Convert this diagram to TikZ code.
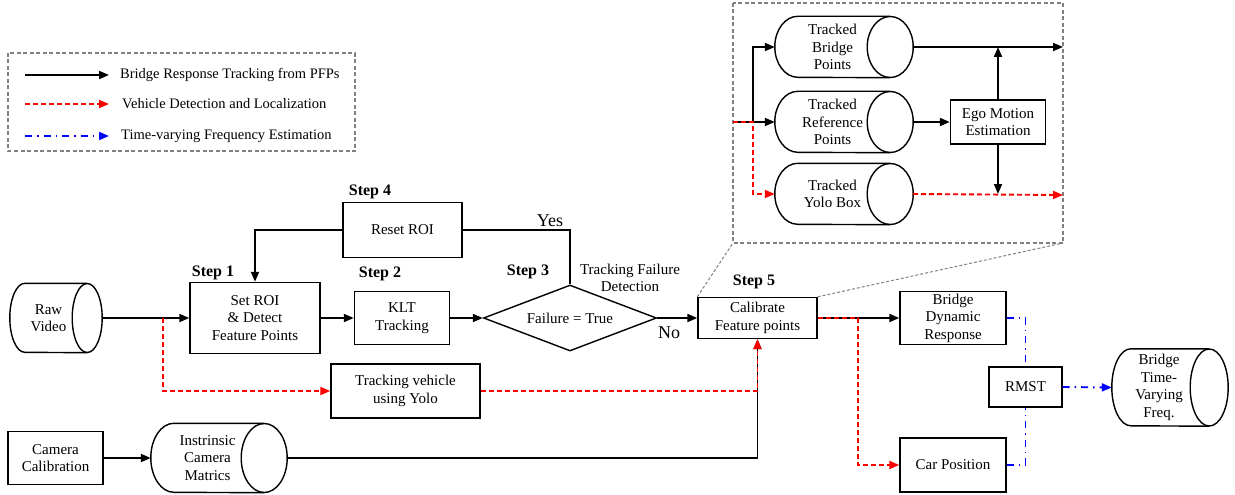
\documentclass[tikz,border=0pt]{standalone}
\usepackage{fontspec}
\setmainfont{Liberation Serif}
\usetikzlibrary{arrows.meta,shapes.geometric,calc}
\newcommand\myMainFont{\fontsize{15}{17.5}\selectfont}
\newcommand\myLegFont{\fontsize{14.5}{17}\selectfont}
\newcommand\myStepFont{\fontsize{16}{18}\selectfont\bfseries}
\newcommand\myYNFont{\fontsize{18}{20}\selectfont}
% cylinder outline: node name, x radius, y radius
\newcommand\cylout[3]{%
  \draw[line width=1.4pt] ($(#1.north east)+(-#2pt,0pt)$) -- ($(#1.north west)+(#2pt,0pt)$)
     arc[start angle=90,end angle=270,x radius=#2pt,y radius=#3pt] -- ($(#1.south east)+(-#2pt,0pt)$);
  \draw[line width=1.4pt] ($(#1.east)+(-#2pt,0pt)$) ellipse[x radius=#2pt,y radius=#3pt];}
\tikzset{
  box/.style={draw, line width=1.4pt, inner sep=0pt, align=center, font=\myMainFont},
  cyln/.style={draw=none, inner sep=0pt},
  ctext/.style={align=center, font=\myMainFont, inner sep=0pt},
  arr/.style={-{Triangle[length=10pt,width=8pt]}},
  blk/.style={line width=1.9pt, draw=black},
  rdl/.style={line width=1.9pt, draw=red, dash pattern=on 5pt off 3pt},
  bdl/.style={line width=1.9pt, draw=blue, dash pattern=on 7pt off 5pt on 1.5pt off 5pt},
  grayframe/.style={draw=gray, line width=1.5pt, dash pattern=on 4pt off 2.5pt},
  zoomline/.style={draw=gray, line width=1pt, dash pattern=on 3pt off 2pt},
  steplab/.style={font=\myStepFont, inner sep=0pt},
}
\begin{document}
\begin{tikzpicture}[x=1pt,y=-1pt]
\useasboundingbox (0,0) rectangle (1235,495);

% ---------- legend ----------
\draw[grayframe] (8,53) rectangle (355,151);
\coordinate (l1a) at (25,75);  \coordinate (l1b) at (109,75);
\coordinate (l2a) at (25,104); \coordinate (l2b) at (109,104);
\coordinate (l3a) at (25,136); \coordinate (l3b) at (109,136);
\draw[blk,arr] (l1a) -- (l1b);
\draw[rdl,arr] (l2a) -- (l2b);
\draw[bdl,arr] (l3a) -- (l3b);
\node[anchor=west, font=\myLegFont, inner sep=0pt] (lt1) at (120,75) {Bridge Response Tracking from PFPs};
\node[anchor=west, font=\myLegFont, inner sep=0pt] (lt2) at (122,104) {Vehicle Detection and Localization};
\node[anchor=west, font=\myLegFont, inner sep=0pt] (lt3) at (121,136) {Time-varying Frequency Estimation};

% ---------- inset ----------
\draw[grayframe] (733,3) rectangle (1063,243);
\coordinate (insw) at (733,243);
\coordinate (inse) at (1063,243);
\coordinate (inl) at (733,122);
\coordinate (br) at (753,122);
\coordinate (outT) at (1063,47);
\coordinate (outR) at (1063,195);

\node[cyln, minimum width=138pt, minimum height=61pt] (tbp) at (844,47) {};
\cylout{tbp}{23}{30.5}
\node[ctext] at ($(tbp.center)+(-11.5,0)$) {Tracked\\Bridge\\Points};
\node[cyln, minimum width=138pt, minimum height=61pt] (trp) at (844,122) {};
\cylout{trp}{23}{30.5}
\node[ctext] at ($(trp.center)+(-11.5,0)$) {Tracked\\Reference\\Points};
\node[cyln, minimum width=138pt, minimum height=61pt] (tyb) at (844,194) {};
\cylout{tyb}{23}{30.5}
\node[ctext] at ($(tyb.center)+(-11.5,0)$) {Tracked\\Yolo Box};
\node[box, minimum width=95pt, minimum height=44pt] (ego) at (998,122) {Ego Motion\\Estimation};

\draw[blk] (inl) -- (br);
\draw[blk,arr] (br) |- (tbp.west);
\draw[blk,arr] (br) -- (trp.west);
\draw[rdl,arr] (inl) -- (br) |- (tyb.west);
\draw[blk,arr] (tbp.east) -- (outT);
\draw[blk,arr] (trp.east) -- (ego.west);
\draw[blk,arr] (ego.north) -- (ego.north |- outT);
\draw[blk,arr] (ego.south) -- (ego.south |- tyb.east);
\draw[rdl,arr] (tyb.east) -- (outR);

% ---------- main flow ----------
\node[cyln, minimum width=92pt, minimum height=69pt] (raw) at (56,318) {};
\cylout{raw}{15}{34.5}
\node[ctext] at ($(raw.center)+(-7.5,0)$) {Raw\\Video};

\node[box, minimum width=130pt, minimum height=71pt] (setroi) at (255,318) {Set ROI\\\& Detect\\Feature Points};
\node[box, minimum width=95pt, minimum height=53pt] (klt) at (402,318) {KLT\\Tracking};
\node[box, minimum width=119pt, minimum height=55pt] (reset) at (402.5,230) {Reset ROI};
\node[draw, line width=1.4pt, diamond, aspect=2.62, minimum width=173pt, minimum height=66pt, inner sep=0pt, font=\myMainFont] (dia) at (570,318) {Failure = True};
\node[box, minimum width=119pt, minimum height=41pt] (cal) at (757.5,318) {Calibrate\\Feature points};
\node[box, minimum width=106pt, minimum height=53pt] (bdr) at (953,318) {Bridge\\Dynamic\\Response};
\node[box, minimum width=106pt, minimum height=54pt] (car) at (953,465) {Car Position};
\node[box, minimum width=73pt, minimum height=40pt] (rmst) at (1025.5,387) {RMST};
\node[cyln, minimum width=116pt, minimum height=77pt] (btv) at (1170,387.5) {};
\cylout{btv}{19}{38.5}
\node[ctext] at ($(btv.center)+(-11,0)$) {Bridge\\Time-\\Varying\\Freq.};
\node[box, minimum width=149pt, minimum height=54pt] (tv) at (405.5,391) {Tracking vehicle\\using Yolo};
\node[box, minimum width=95pt, minimum height=53pt] (camcal) at (55.5,458) {Camera\\Calibration};
\node[cyln, minimum width=136pt, minimum height=69pt] (icm) at (219,458) {};
\cylout{icm}{23}{34.5}
\node[ctext] at ($(icm.center)+(-11.5,0)$) {Instrinsic\\Camera\\Matrics};

% labels
\node[steplab] (s1) at (213,273) {Step 1};
\node[steplab] (s2) at (380,274) {Step 2};
\node[steplab] (s4) at (370,192) {Step 4};
\node[steplab] (s3) at (528,272) {Step 3};
\node[steplab] (s5) at (754,282) {Step 5};
\node[font=\myYNFont, inner sep=0pt] (yes) at (550,221) {Yes};
\node[font=\myYNFont, inner sep=0pt] (no) at (669,333) {No};
\node[ctext] (tfd) at (630,278) {Tracking Failure\\Detection};

% connectors
\coordinate (rbr) at (163,318);
\coordinate (rcal) at (858,318);
\draw[blk,arr] (raw.east) -- (setroi.west);
\draw[rdl,arr] (rbr) |- (tv.west);
\draw[blk,arr] (setroi.east) -- (klt.west);
\draw[blk,arr] (klt.east) -- (dia.west);
\draw[blk,arr] (dia.east) -- (cal.west);
\draw[blk,arr] (reset.west) -| (setroi.north);
\draw[blk] (reset.east) -| (dia.north);
\draw[blk,arr] (cal.east) -- (bdr.west);
\draw[rdl,arr] (cal.east) -- (rcal) |- (car.west);
\draw[blk,arr] (camcal.east) -- (icm.west);
\draw[blk,arr] (icm.east) -| (cal.south);
\draw[rdl,arr] (tv.east) -| (cal.south);
\draw[bdl] (bdr.east) -| (rmst.north);
\draw[bdl] (car.east) -| (rmst.south);
\draw[bdl,arr] (rmst.east) -- (btv.west);
\draw[zoomline] (cal.north west) -- (insw);
\draw[zoomline] (cal.north east) -- (inse);
\end{tikzpicture}
\end{document}
